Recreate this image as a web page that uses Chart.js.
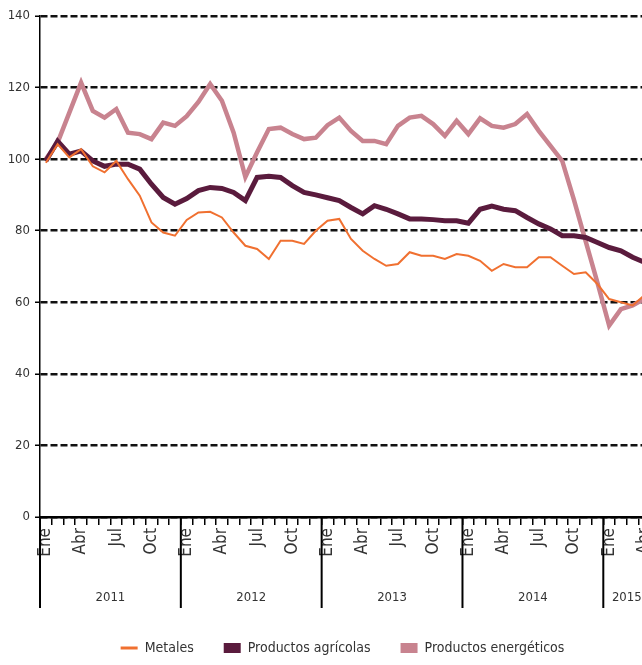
<!DOCTYPE html>
<html>
<head>
<meta charset="utf-8">
<script src="https://cdn.jsdelivr.net/npm/chart.js@4.4.1/dist/chart.umd.min.js"></script>
<style>
html, body { margin: 0; padding: 0; background: #fff; overflow: hidden; }
</style>
</head>
<body>
<canvas id="grafico" width="703" height="665"></canvas>
<script>
var meses = ['Ene', 'Feb', 'Mar', 'Abr', 'May', 'Jun', 'Jul', 'Ago', 'Sep', 'Oct', 'Nov', 'Dic'];
var anios = ['2011', '2012', '2013', '2014', '2015'];
var mesesVisibles = ['Ene', 'Abr', 'Jul', 'Oct'];
var numMeses = 55; // Ene 2011 .. Jul 2015 (the picture is cut at the right)

// indices, Ene 2011 = 100
var metales = [99, 104.2, 100.5, 102.8, 98, 96.3, 99.5, 94.4, 89.8, 82.3, 79.5, 78.6,
               83, 85.1, 85.3, 83.7, 79.5, 75.8, 74.9, 72.1, 77.2, 77.2, 76.3, 80,
               82.8, 83.3, 77.7, 74.4, 72.1, 70.2, 70.7, 74, 73, 73, 72.1, 73.5,
               73, 71.6, 68.8, 70.7, 69.8, 69.8, 72.6, 72.6, 70.2, 67.9, 68.4, 65.1,
               60.9, 60, 59.1, 62];
var agricolas = [99.5, 105, 101.4, 102.3, 99.5, 98, 98.6, 98.6, 97.2, 93, 89.3, 87.4,
                 89, 91.2, 92.1, 91.8, 90.7, 88.4, 94.9, 95.2, 94.9, 92.6, 90.7, 90,
                 89.2, 88.4, 86.5, 84.7, 87, 86, 84.7, 83.3, 83.3, 83.1, 82.8, 82.8,
                 82.1, 86, 86.9, 86, 85.6, 83.7, 81.9, 80.5, 78.6, 78.6, 78.1, 76.7,
                 75.3, 74.4, 72.6, 71.2];
var energeticos = [100, 104.6, 113, 121.4, 113.5, 111.6, 114, 107.4, 107, 105.6, 110.2, 109.3,
                   112, 116, 121, 116.3, 107.4, 95, 101.9, 108.4, 108.8, 107, 105.6, 106,
                   109.5, 111.6, 107.9, 105.1, 105.1, 104.2, 109.3, 111.6, 112.1, 109.8, 106.5, 110.7,
                   107, 111.4, 109.3, 108.8, 109.8, 112.6, 107.9, 103.7, 99.5, 88.6, 77, 65.5,
                   53.5, 58.1, 59.1, 61];

var categorias = [];
for (var i = 0; i < numMeses; i++) {
    categorias.push(meses[i % 12] + ' ' + anios[Math.floor(i / 12)]);
}

var fuente = '"DejaVu Sans Condensed", "Liberation Sans Narrow", sans-serif';
var colores = ['#F07030', '#5A1B3D', '#C8838F'];

// year labels and separators under the month ticks
var bandasAnio = {
    id: 'bandasAnio',
    afterLayout: function(chart) {
        // legend sits a little left of the canvas centre in the original
        chart.legend.left -= 8;
        chart.legend.right -= 8;
    },
    afterDraw: function(chart) {
        var xs = chart.scales.x;
        var ctx = chart.ctx;
        var base = chart.chartArea.bottom;
        var medio = (xs.getPixelForValue(1) - xs.getPixelForValue(0)) / 2;
        ctx.save();
        ctx.strokeStyle = '#000';
        ctx.lineWidth = 2;
        ctx.fillStyle = '#333';
        ctx.font = '13px ' + fuente;
        ctx.textAlign = 'center';
        ctx.textBaseline = 'middle';
        for (var k = 0; k < anios.length; k++) {
            var primero = k * 12;
            var ultimo = Math.min(primero + 11, metales.length - 1);
            var borde = xs.getPixelForValue(primero) - medio;
            ctx.beginPath();
            ctx.moveTo(borde, base);
            ctx.lineTo(borde, base + 91);
            ctx.stroke();
            var centro = (xs.getPixelForValue(primero) + xs.getPixelForValue(ultimo)) / 2;
            ctx.fillText(anios[k], centro, base + 81);
        }
        ctx.restore();
    }
};

var chart = new Chart(document.getElementById('grafico').getContext('2d'), {
    type: 'line',
    data: {
        labels: categorias,
        datasets: [
            { label: 'Metales', data: metales, borderColor: colores[0], backgroundColor: colores[0], borderWidth: 2 },
            { label: 'Productos agrícolas', data: agricolas, borderColor: colores[1], backgroundColor: colores[1], borderWidth: 5 },
            { label: 'Productos energéticos', data: energeticos, borderColor: colores[2], backgroundColor: colores[2], borderWidth: 4.5 }
        ]
    },
    options: {
        responsive: false,
        animation: false,
        elements: { point: { radius: 0 }, line: { tension: 0 } },
        layout: { padding: { top: 16, right: 2, left: 0, bottom: 0 } },
        plugins: {
            tooltip: { enabled: false },
            legend: {
                position: 'bottom',
                labels: {
                    usePointStyle: true,
                    pointStyleWidth: 17,
                    boxHeight: 10,
                    padding: 30,
                    color: '#333',
                    font: { family: fuente, size: 14 },
                    generateLabels: function(c) {
                        var items = Chart.defaults.plugins.legend.labels.generateLabels(c);
                        items.forEach(function(it, j) {
                            if (j === 0) {
                                it.pointStyle = 'line';
                                it.lineWidth = 3;
                                it.strokeStyle = colores[0];
                            } else {
                                it.pointStyle = 'rect';
                                it.lineWidth = 0;
                                it.fillStyle = colores[j];
                            }
                        });
                        return items;
                    }
                }
            }
        },
        scales: {
            x: {
                offset: true,
                grid: { display: true, drawOnChartArea: false, drawTicks: true, tickLength: 8, color: '#000', lineWidth: 1.5, offset: true },
                border: { display: true, color: '#000', width: 2.5 },
                ticks: {
                    autoSkip: false, minRotation: 90, maxRotation: 90, padding: 3,
                    color: '#333', font: { family: fuente, size: 17 },
                    callback: function(v, i) {
                        var m = categorias[i].split(' ')[0];
                        return mesesVisibles.indexOf(m) >= 0 ? m : '';
                    }
                },
                afterFit: function(s) { s.height = 94; }
            },
            y: {
                min: 0, max: 140,
                ticks: { stepSize: 20, padding: 5, color: '#333', font: { family: fuente, size: 13 } },
                grid: { color: '#111', lineWidth: 2.5, tickLength: 5, tickColor: '#000', tickWidth: 1.5 },
                border: { display: true, color: '#000', width: 1.5, dash: [7, 3] },
                afterFit: function(s) { s.width = 40; }
            }
        }
    },
    plugins: [bandasAnio]
});
</script>
</body>
</html>
